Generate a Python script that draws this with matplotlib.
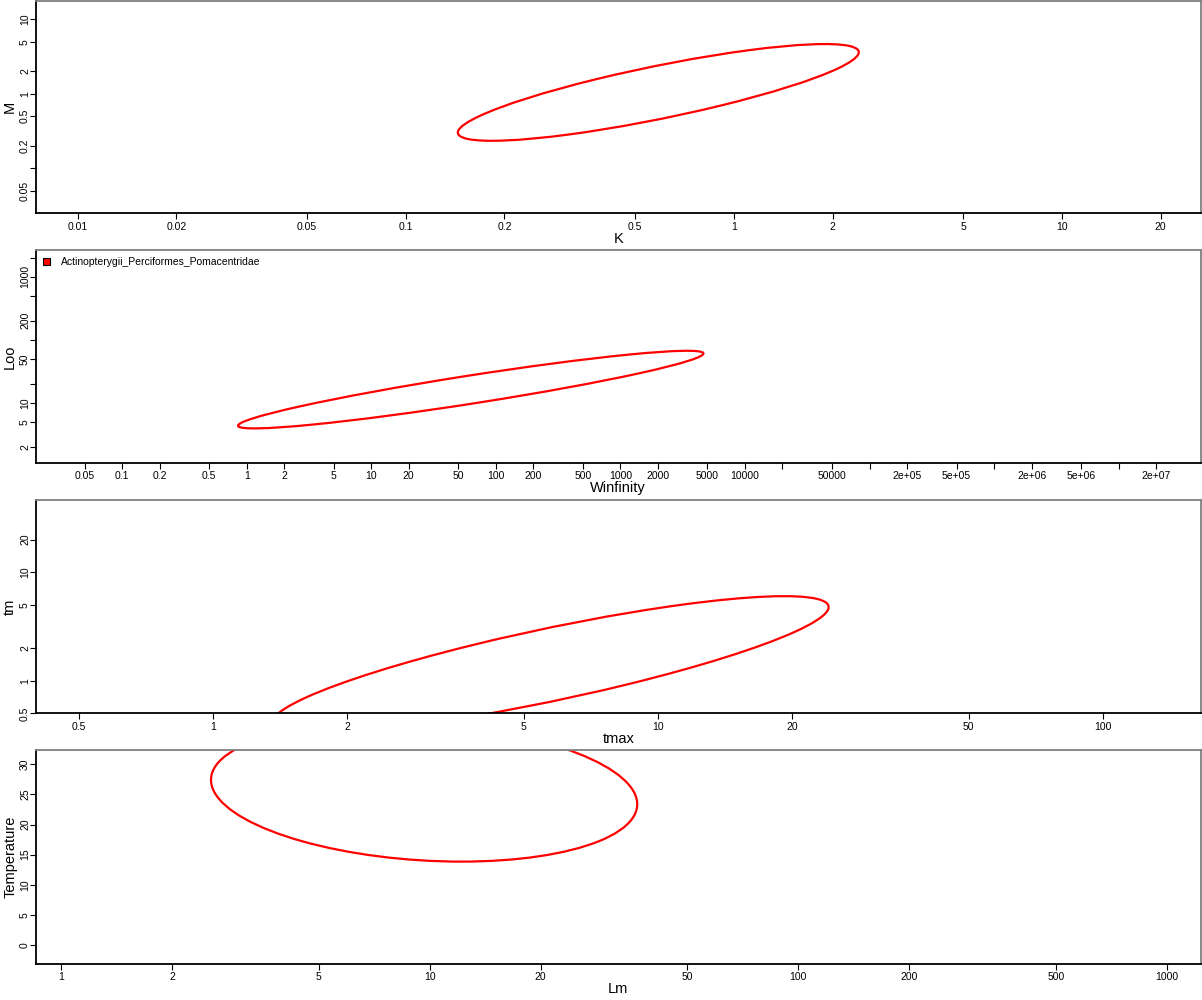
import numpy as np
import matplotlib
matplotlib.use("Agg")
from matplotlib import pyplot as plt
from matplotlib.patches import Ellipse, Patch

plt.rcParams['font.family'] = ['Liberation Sans', 'DejaVu Sans']

# --- data (ellipses in log10 space, Temperature linear) ---
x_names = ["K", "Winfinity", "tmax", "Lm"]
y_names = ["M", "Loo", "tm", "Temperature"]
x_center = [0.589, 62.9, 5.74, 9.66]
y_center = [1.04, 16.3, 1.41, 25.4]
x_half = [0.611, 1.868, 0.625, 0.578]      # half extent, log10 units
y_half = [0.650, 0.614, 0.631, 11.55]      # half extent (Temperature in degrees)
corr = [0.83, 0.93, 0.84, -0.175]
y_log = [True, True, True, False]
legend_label = "Actinopterygii_Perciformes_Pomacentridae"

# tick values and labels ("" = tick without label, as in the original)
x_ticks = [
    [0.01, 0.02, 0.05, 0.1, 0.2, 0.5, 1, 2, 5, 10, 20],
    [0.05, 0.1, 0.2, 0.5, 1, 2, 5, 10, 20, 50, 100, 200, 500, 1000, 2000, 5000,
     1e4, 2e4, 5e4, 1e5, 2e5, 5e5, 1e6, 2e6, 5e6, 1e7, 2e7],
    [0.5, 1, 2, 5, 10, 20, 50, 100],
    [1, 2, 5, 10, 20, 50, 100, 200, 500, 1000],
]
x_labels = [
    ["0.01", "0.02", "0.05", "0.1", "0.2", "0.5", "1", "2", "5", "10", "20"],
    ["0.05", "0.1", "0.2", "0.5", "1", "2", "5", "10", "20", "50", "100", "200",
     "500", "1000", "2000", "5000", "10000", "", "50000", "", "2e+05", "5e+05",
     "", "2e+06", "5e+06", "", "2e+07"],
    ["0.5", "1", "2", "5", "10", "20", "50", "100"],
    ["1", "2", "5", "10", "20", "50", "100", "200", "500", "1000"],
]
y_ticks = [
    [0.05, 0.1, 0.2, 0.5, 1, 2, 5, 10],
    [2, 5, 10, 20, 50, 100, 200, 500, 1000, 2000],
    [0.5, 1, 2, 5, 10, 20],
    [0, 5, 10, 15, 20, 25, 30],
]
y_labels = [
    ["0.05", "", "0.2", "0.5", "1", "2", "5", "10"],
    ["2", "5", "10", "", "50", "", "200", "", "1000", ""],
    ["0.5", "1", "2", "5", "10", "20"],
    ["0", "5", "10", "15", "20", "25", "30"],
]
# axis limits (log10 units, Temperature in degrees)
x_lim = [(-2.128, 1.424), (-1.695, 7.661), (-0.399, 2.221), (-0.069, 3.092)]
y_lim = [(-1.607, 1.252), (0.051, 3.42), (-0.301, 1.667), (-3.15, 32.38)]

W, H = 1202, 1000
fig = plt.figure(figsize=(W / 100, H / 100), dpi=100)
tops = [0.5, 250, 500, 750]
bots = [213.3, 463, 713.4, 964]
left, right = 35.5, 1201

for i in range(4):
    ax = fig.add_axes([left / W, 1 - bots[i] / H, (right - left) / W, (bots[i] - tops[i]) / H])
    cx = np.log10(x_center[i])
    cy = np.log10(y_center[i]) if y_log[i] else y_center[i]
    a, b, r = x_half[i], y_half[i], corr[i]
    cov = np.array([[a * a, r * a * b], [r * a * b, b * b]])
    vals, vecs = np.linalg.eigh(cov)
    ang = np.degrees(np.arctan2(vecs[1, 1], vecs[0, 1]))
    ax.add_patch(Ellipse((cx, cy), 2 * np.sqrt(vals[1]), 2 * np.sqrt(vals[0]), angle=ang,
                         fill=False, edgecolor='red', linewidth=1.6))

    ax.set_xlim(*x_lim[i])
    ax.set_ylim(*y_lim[i])
    ax.set_xticks(np.log10(x_ticks[i]))
    ax.set_xticklabels(x_labels[i])
    yt = np.log10(y_ticks[i]) if y_log[i] else y_ticks[i]
    ax.set_yticks(yt)
    ax.set_yticklabels(y_labels[i], rotation=90, va='center')
    ax.tick_params(axis='both', direction='out', length=4, width=0.8, labelsize=7.5, pad=2,
                   colors='black')
    ax.tick_params(axis='y', pad=0)
    for s in ['top', 'right']:
        ax.spines[s].set_color('grey')
        ax.spines[s].set_linewidth(1.3)
    for s in ['bottom', 'left']:
        ax.spines[s].set_color('black')
        ax.spines[s].set_linewidth(1.3)
    ax.set_xlabel(x_names[i], fontsize=10.5, labelpad=0)
    ax.set_ylabel(y_names[i], fontsize=10.5, labelpad=2)

    if i == 1:
        ax.legend(handles=[Patch(facecolor='red', edgecolor='black', linewidth=0.8, label=legend_label)],
                  loc='upper left', frameon=False, fontsize=7.5, handlelength=0.7,
                  handleheight=0.7, handletextpad=1.0, borderaxespad=0.3)

fig.savefig("out.png", dpi=100)
